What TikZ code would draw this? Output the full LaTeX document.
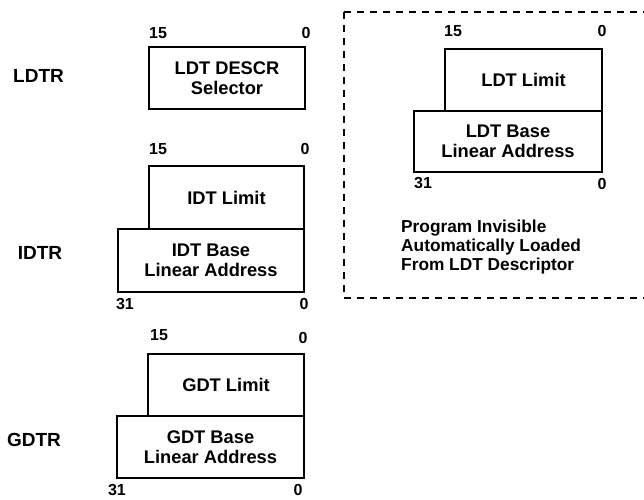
\documentclass[tikz,border=0pt]{standalone}
\usepackage{fontspec}
\setmainfont{Liberation Sans}
\begin{document}
\begin{tikzpicture}[x=1pt,y=-1pt,
  every node/.style={font=\bfseries\fontsize{18.3}{20}\selectfont, inner sep=0pt},
  reg/.style={draw, line width=2.1pt, rectangle, align=center},
  num/.style={font=\bfseries\fontsize{16}{18}\selectfont},
  regname/.style={font=\bfseries\fontsize{19}{20}\selectfont},
  dashbox/.style={line width=2.6pt, dash pattern=on 7pt off 6pt}]
\fill[white] (0,0) rectangle (644,499);
\useasboundingbox (0,0) rectangle (644,499);

% LDTR
\node[regname] (ldtrname) at (38.5,76) {LDTR};
\node[reg, minimum width=156pt, minimum height=62pt] (ldtr) at (227,78) {LDT DESCR\\Selector};
\node[num] (ldtr15) at (158,33) {15};
\node[num] (ldtr0) at (306,33) {0};

% IDTR
\node[regname] (idtrname) at (40,253) {IDTR};
\node[reg, minimum width=155pt, minimum height=63pt] (idtlim) at (226.5,197.5) {IDT Limit};
\node[reg, minimum width=186pt, minimum height=63pt] (idtbase) at (211,260.5) {IDT Base\\Linear Address};
\node[num] (idt15) at (158,149) {15};
\node[num] (idt0) at (305,149) {0};
\node[num] (idt31) at (125,304) {31};
\node[num] (idtb0) at (304,304) {0};

% GDTR
\node[regname] (gdtrname) at (34,440) {GDTR};
\node[reg, minimum width=156pt, minimum height=62pt] (gdtlim) at (226,385) {GDT Limit};
\node[reg, minimum width=187pt, minimum height=62pt] (gdtbase) at (210.5,447) {GDT Base\\Linear Address};
\node[num] (gdt15) at (159,335) {15};
\node[num] (gdt0) at (303,338) {0};
\node[num] (gdt31) at (117,490) {31};
\node[num] (gdtb0) at (298,490) {0};

% LDT (program-invisible part)
\draw[dashbox] (344,12) -- (644,12);
\draw[dashbox] (344,12) -- (344,298) -- (644,298);
\node[reg, minimum width=157pt, minimum height=62pt] (ldtlim) at (523.5,80) {LDT Limit};
\node[reg, minimum width=188pt, minimum height=61pt] (ldtbase) at (508,141.5) {LDT Base\\Linear Address};
\node[num] (ldt15) at (453,31) {15};
\node[num] (ldt0) at (602,31) {0};
\node[num] (ldt31) at (423,183) {31};
\node[num] (ldtb0) at (602,184) {0};
\node[align=left, anchor=north west, font=\bfseries\fontsize{17.3}{19}\selectfont] (note) at (401,220) {Program Invisible\\Automatically Loaded\\From LDT Descriptor};
\end{tikzpicture}
\end{document}
